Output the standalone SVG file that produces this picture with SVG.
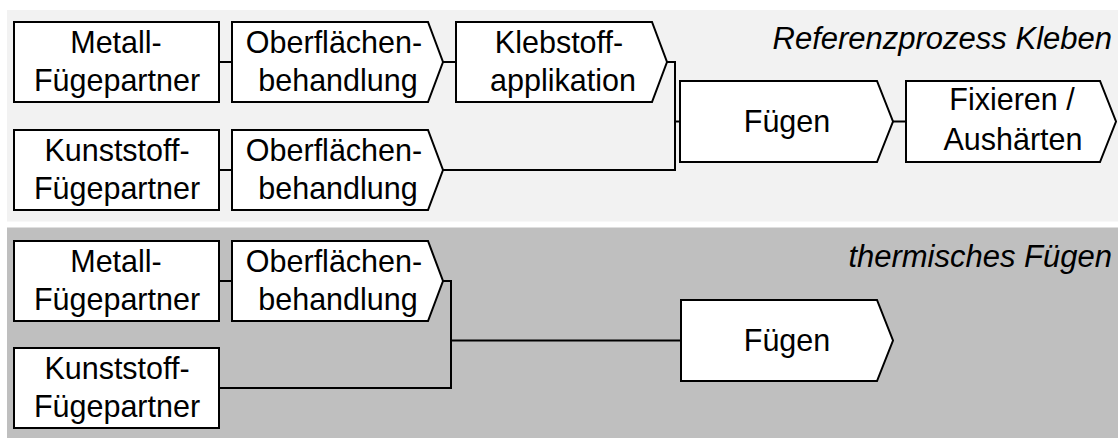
<svg xmlns="http://www.w3.org/2000/svg" width="1118" height="438" viewBox="0 0 1118 438">
  <style>
    .box { fill: #ffffff; stroke: #000000; stroke-width: 2; stroke-linejoin: miter; }
    .wire { fill: none; stroke: #000000; stroke-width: 2; stroke-linejoin: miter; }
    .lbl { font-family: "Liberation Sans", Arial, sans-serif; font-size: 30.5px; fill: #000000; text-anchor: middle; }
    .title { font-family: "Liberation Sans", Arial, sans-serif; font-size: 31px; font-style: italic; fill: #000000; text-anchor: end; }
  </style>

  <!-- background bands -->
  <g id="bands">
    <rect x="7" y="10" width="1111" height="211.5" fill="#f2f2f2"/>
    <rect x="7" y="227.5" width="1111" height="210.5" fill="#bfbfbf"/>
    <text class="title" x="1112" y="48.5">Referenzprozess Kleben</text>
    <text class="title" x="1112" y="266.5">thermisches Fügen</text>
  </g>

  <!-- connectors -->
  <g id="connectors">
    <!-- adhesive bonding chain -->
    <path class="wire" d="M219 62 H232"/>
    <path class="wire" d="M443 62 H456"/>
    <path class="wire" d="M219 170 H232"/>
    <path class="wire" d="M667 62 H675 V170 H443"/>
    <path class="wire" d="M675 121.5 H680"/>
    <path class="wire" d="M893 121.5 H906"/>
    <!-- thermal joining chain -->
    <path class="wire" d="M219 281 H232"/>
    <path class="wire" d="M443 281 H451 V388 H219"/>
    <path class="wire" d="M451 340.5 H681"/>
  </g>

  <!-- upper band: adhesive bonding -->
  <g id="k-metall">
    <rect class="box" x="14" y="22" width="205" height="80"/>
    <text class="lbl"><tspan x="116" y="53">Metall-</tspan><tspan x="117" y="91">Fügepartner</tspan></text>
  </g>
  <g id="k-oberflaeche-1">
    <polygon class="box" points="232,22 428,22 443,62 428,102 232,102"/>
    <text class="lbl"><tspan x="334" y="53">Oberflächen-</tspan><tspan x="338" y="91">behandlung</tspan></text>
  </g>
  <g id="k-klebstoff">
    <polygon class="box" points="456,22 652,22 667,62 652,102 456,102"/>
    <text class="lbl"><tspan x="559" y="53">Klebstoff-</tspan><tspan x="563" y="91">applikation</tspan></text>
  </g>
  <g id="k-kunststoff">
    <rect class="box" x="14" y="130" width="205" height="80"/>
    <text class="lbl"><tspan x="117" y="161">Kunststoff-</tspan><tspan x="117" y="199">Fügepartner</tspan></text>
  </g>
  <g id="k-oberflaeche-2">
    <polygon class="box" points="232,130 428,130 443,170 428,210 232,210"/>
    <text class="lbl"><tspan x="334" y="161">Oberflächen-</tspan><tspan x="338" y="199">behandlung</tspan></text>
  </g>
  <g id="k-fuegen">
    <polygon class="box" points="680,81 877,81 893,121.5 877,162 680,162"/>
    <text class="lbl" x="787" y="132">Fügen</text>
  </g>
  <g id="k-fixieren">
    <polygon class="box" points="906,81 1100,81 1116,121.5 1100,162 906,162"/>
    <text class="lbl"><tspan x="1012" y="110">Fixieren /</tspan><tspan x="1013" y="150">Aushärten</tspan></text>
  </g>

  <!-- lower band: thermal joining -->
  <g id="t-metall">
    <rect class="box" x="14" y="241" width="205" height="80"/>
    <text class="lbl"><tspan x="116" y="272">Metall-</tspan><tspan x="117" y="310">Fügepartner</tspan></text>
  </g>
  <g id="t-oberflaeche">
    <polygon class="box" points="232,241 428,241 443,281 428,321 232,321"/>
    <text class="lbl"><tspan x="334" y="272">Oberflächen-</tspan><tspan x="338" y="310">behandlung</tspan></text>
  </g>
  <g id="t-kunststoff">
    <rect class="box" x="14" y="348" width="205" height="80"/>
    <text class="lbl"><tspan x="117" y="379">Kunststoff-</tspan><tspan x="117" y="417">Fügepartner</tspan></text>
  </g>
  <g id="t-fuegen">
    <polygon class="box" points="681,300 877,300 893,340.5 877,381 681,381"/>
    <text class="lbl" x="787" y="351">Fügen</text>
  </g>
</svg>
